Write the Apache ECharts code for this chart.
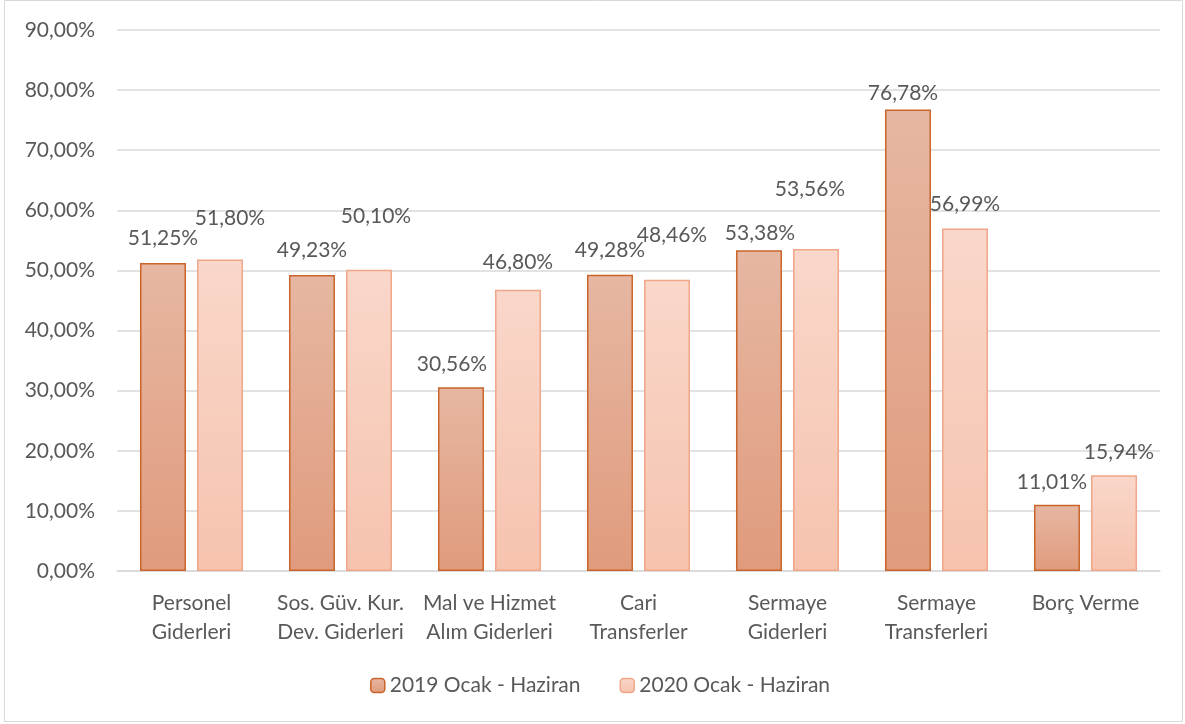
<!DOCTYPE html>
<html>
<head>
<meta charset="utf-8">
<script src="https://cdn.jsdelivr.net/npm/echarts@6/dist/echarts.min.js"></script>
<style>
  html, body { margin: 0; padding: 0; background: #fff; }
  #chart { width: 1185px; height: 724px; }
</style>
</head>
<body>
<div id="chart"></div>
<script>
// categories + values
const categories = [
  'Personel\nGiderleri',
  'Sos. Güv. Kur.\nDev. Giderleri',
  'Mal ve Hizmet\nAlım Giderleri',
  'Cari\nTransferler',
  'Sermaye\nGiderleri',
  'Sermaye\nTransferleri',
  'Borç Verme'
];
const seriesNames = ['2019 Ocak - Haziran', '2020 Ocak - Haziran'];
const values2019 = [51.25, 49.23, 30.56, 49.28, 53.38, 76.78, 11.01];
const values2020 = [51.80, 50.10, 46.80, 48.46, 53.56, 56.99, 15.94];

// label nudges so they sit where excel put them
const offsets2019 = [[0, -9], [0, -9], [-9, -8], [0, -9], [1, -1], [-5, -1], [-5, -7]];
const offsets2020 = [[10, -26], [7, -38], [0, -12], [5, -29], [-6, -44], [0, -9], [5, -7]];

const FONT = 'Lato';
const FS = 21;
const textColor = '#595959';

const fmt = (v) => v.toFixed(2).replace('.', ',') + '%';

const makeData = (vals, offs) => vals.map((v, i) => ({
  value: v,
  label: { offset: offs[i] }
}));

const chart = echarts.init(document.getElementById('chart'), null, { renderer: 'canvas' });

chart.setOption({
  backgroundColor: '#ffffff',
  animation: false,
  textStyle: { fontFamily: FONT },
  graphic: [{
    type: 'rect',
    shape: { x: 4.5, y: 0.5, width: 1178, height: 721 },
    style: { fill: 'none', stroke: '#d9d9d9', lineWidth: 1 },
    silent: true
  }],
  grid: { left: 117, right: 25, top: 30, bottom: 153 },
  legend: {
    left: 365,
    top: 670,
    itemWidth: 14,
    itemHeight: 14,
    itemGap: 39,
    itemStyle: { borderWidth: 1.5 },
    textStyle: { fontFamily: FONT, fontSize: FS, color: textColor },
    data: seriesNames
  },
  xAxis: {
    type: 'category',
    data: categories,
    axisLine: { lineStyle: { color: '#d9d9d9', width: 1.5 } },
    axisTick: { show: false },
    axisLabel: {
      interval: 0,
      margin: 18,
      fontFamily: FONT,
      fontSize: FS,
      lineHeight: 29,
      color: textColor
    }
  },
  yAxis: {
    type: 'value',
    min: 0,
    max: 90,
    interval: 10,
    axisLine: { show: false },
    axisTick: { show: false },
    splitLine: { lineStyle: { color: '#d9d9d9', width: 1.5 } },
    axisLabel: {
      margin: 22,
      fontFamily: FONT,
      fontSize: FS,
      color: textColor,
      formatter: (v) => fmt(v)
    }
  },
  series: [
    {
      name: seriesNames[0],
      type: 'bar',
      barWidth: 46,
      barGap: '24%',
      data: makeData(values2019, offsets2019),
      itemStyle: {
        color: new echarts.graphic.LinearGradient(0, 0, 0, 1, [
          { offset: 0, color: '#e6b7a2' },
          { offset: 1, color: '#e09b7d' }
        ]),
        borderColor: '#c9652b',
        borderWidth: 1.5
      },
      label: {
        show: true,
        position: 'top',
        distance: 5,
        fontFamily: FONT,
        fontSize: FS,
        color: textColor,
        formatter: (p) => fmt(p.value)
      }
    },
    {
      name: seriesNames[1],
      type: 'bar',
      barWidth: 46,
      data: makeData(values2020, offsets2020),
      itemStyle: {
        color: new echarts.graphic.LinearGradient(0, 0, 0, 1, [
          { offset: 0, color: '#f9d7ca' },
          { offset: 1, color: '#f6c3ae' }
        ]),
        borderColor: '#f0a688',
        borderWidth: 1.5
      },
      label: {
        show: true,
        position: 'top',
        distance: 5,
        fontFamily: FONT,
        fontSize: FS,
        color: textColor,
        formatter: (p) => fmt(p.value)
      }
    }
  ]
});
</script>
</body>
</html>
